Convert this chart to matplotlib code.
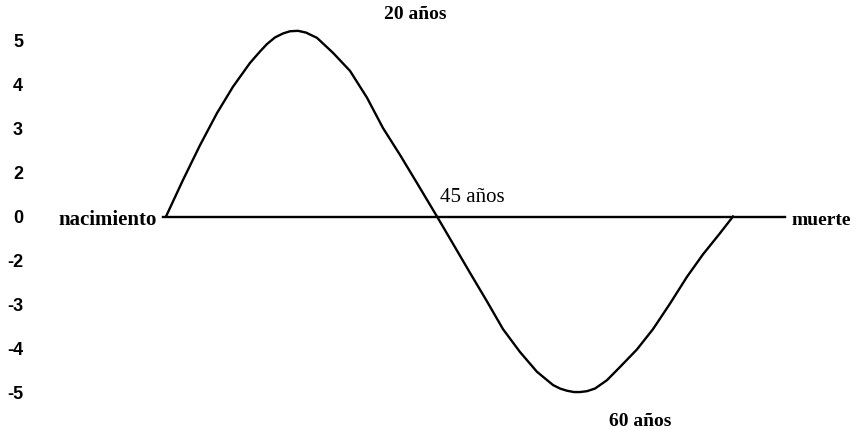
import matplotlib
matplotlib.use("Agg")
import matplotlib.pyplot as plt

# horizontal position (arbitrary scale along the life line) and curve value
curve_x = [166, 183, 200, 217, 233, 250, 260, 267, 275, 283, 290, 298, 306, 317, 333, 350, 367, 383, 400, 417, 437,
           453, 470, 487, 503, 520, 537, 553, 560, 567, 574, 580, 587, 595, 607, 620, 637, 653, 670, 687, 703, 720, 733]
curve_y = [0.0, 0.83, 1.62, 2.35, 2.95, 3.49, 3.75, 3.92, 4.07, 4.16, 4.21, 4.22, 4.18, 4.06, 3.72, 3.31, 2.70, 2.01, 1.40, 0.76, 0.0,
           -0.62, -1.28, -1.93, -2.56, -3.08, -3.53, -3.83, -3.91, -3.96, -3.99, -3.99, -3.97, -3.91, -3.72, -3.42, -3.02, -2.56, -1.98, -1.37, -0.86, -0.38, 0.0]

ytick_pos = [4, 3, 2, 1, 0, -1, -2, -3, -4]
ytick_labels = ["5", "4", "3", "2", "0", "-2", "-3", "-4", "-5"]

line_start, line_end = 163, 785

fig = plt.figure(figsize=(8.57, 4.29), dpi=100)
left_px = 30
ax = fig.add_axes([left_px / 857, 0, 1 - left_px / 857, 1])
ax.set_xlim(left_px, 857)
ax.set_ylim(-(429 - 216.5) / 44, 216.5 / 44)
for s in ax.spines.values():
    s.set_visible(False)
ax.set_xticks([])
ax.set_yticks(ytick_pos)
ax.set_yticklabels(ytick_labels, fontfamily="Liberation Sans", fontweight="bold", fontsize=13)
ax.tick_params(axis="y", length=0, pad=5)

ax.plot([line_start, line_end], [0, 0], color="black", lw=1.7)
ax.plot(curve_x, curve_y, color="black", lw=1.7, solid_joinstyle="round")

serif = "Liberation Serif"
ax.text(157, -0.2, "nacimiento", ha="right", va="baseline", fontfamily=serif, fontweight="bold", fontsize=15)
ax.text(792, -0.2, "muerte", ha="left", va="baseline", fontfamily=serif, fontweight="bold", fontsize=14)
ax.text(415, 4.6, "20 años", ha="center", va="center", fontfamily=serif, fontweight="bold", fontsize=14)
ax.text(440, 0.43, "45 años", ha="left", va="center", fontfamily=serif, fontsize=15)
ax.text(640, -4.65, "60 años", ha="center", va="center", fontfamily=serif, fontweight="bold", fontsize=14)

fig.savefig("out.png", dpi=100, facecolor="white")
